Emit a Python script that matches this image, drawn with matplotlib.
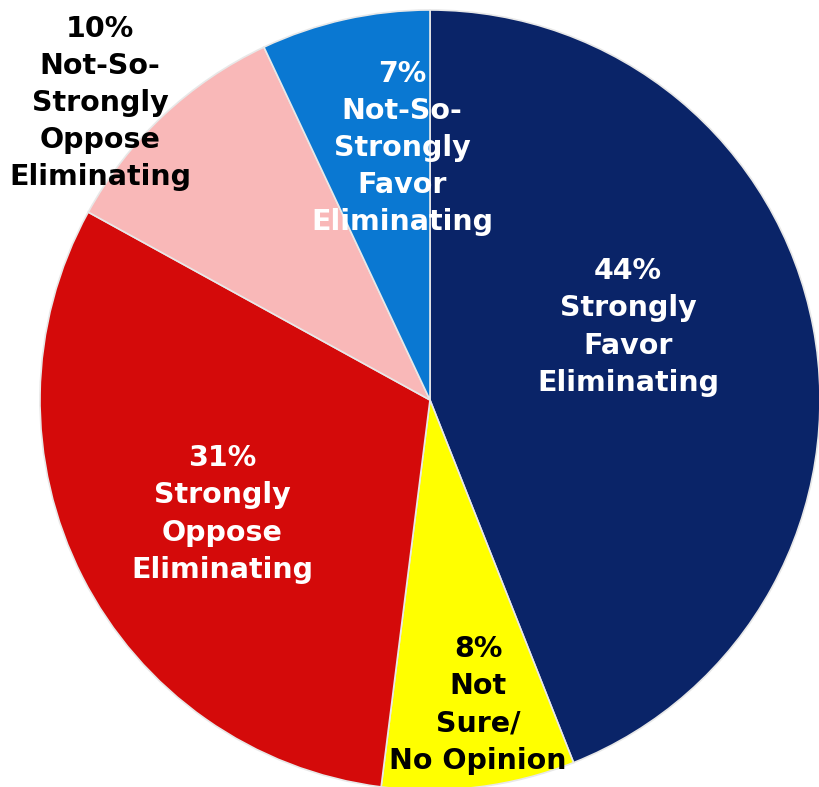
import matplotlib.pyplot as plt

# data (clockwise from 12 o'clock)
labels = ['44%\nStrongly\nFavor\nEliminating',
          '8%\nNot\nSure/\nNo Opinion',
          '31%\nStrongly\nOppose\nEliminating',
          '10%\nNot-So-\nStrongly\nOppose\nEliminating',
          '7%\nNot-So-\nStrongly\nFavor\nEliminating']
values = [44, 8, 31, 10, 7]
colors = ['#0a2468', '#ffff00', '#d40a0a', '#f9b8b8', '#0a78d2']
text_colors = ['white', 'black', 'white', 'black', 'white']
label_pos = [(628, 460), (478, 82), (222, 273), (100, 684), (402, 639)]

W, H = 820, 787
fig = plt.figure(figsize=(W / 100, H / 100), dpi=100)
ax = fig.add_axes([0, 0, 1, 1])

wedges, _ = ax.pie(values, colors=colors, startangle=90, counterclock=False,
                   center=(430, H - 400), radius=390, frame=True,
                   wedgeprops=dict(edgecolor='#e8e8e8', linewidth=1.2))
ax.set_xlim(0, W)
ax.set_ylim(0, H)
ax.set_aspect('equal')
ax.axis('off')

for lab, (x, y), c in zip(labels, label_pos, text_colors):
    ax.text(x, y, lab, ha='center', va='center', color=c, fontsize=20.5,
            fontweight='bold', family='DejaVu Sans', linespacing=1.42)

fig.savefig('out.png', dpi=100)
